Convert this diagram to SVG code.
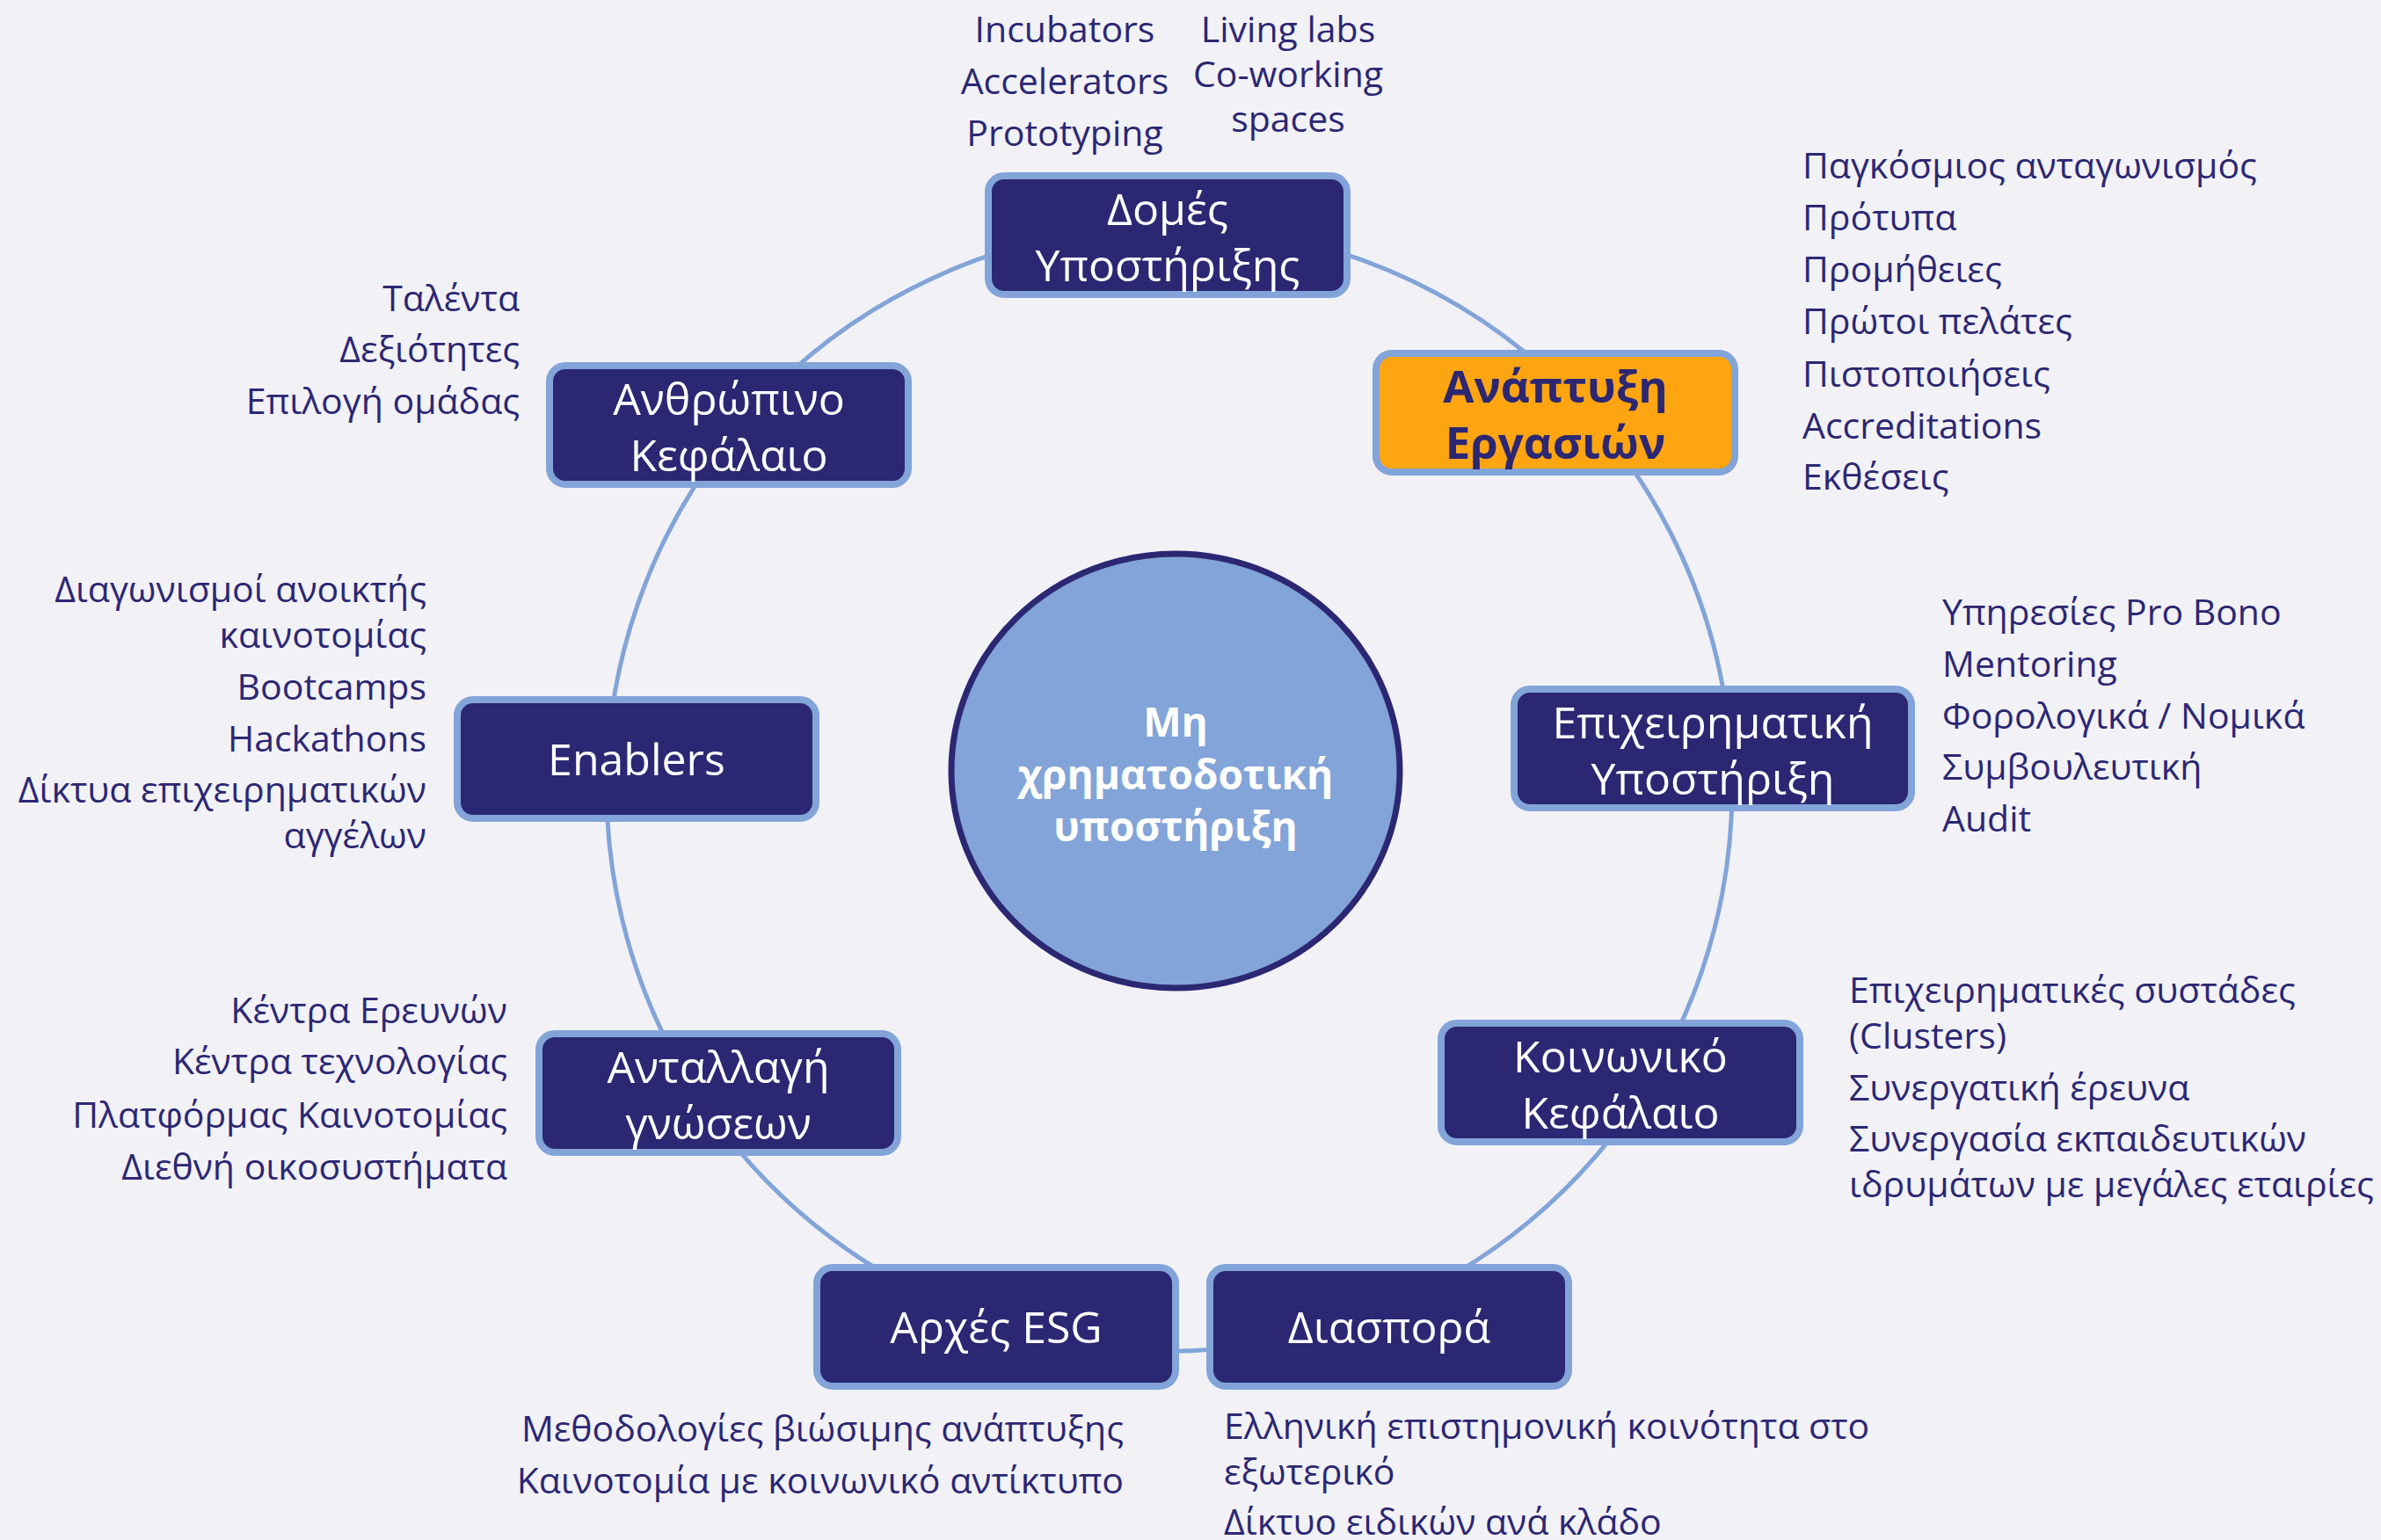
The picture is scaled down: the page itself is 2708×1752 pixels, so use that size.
<svg xmlns="http://www.w3.org/2000/svg" width="2708" height="1752" viewBox="0 0 2708 1752">
<style>
  .bg { fill: #F1F1F6; }
  .box { fill: #2C2773; stroke: #82A4D8; stroke-width: 8; }
  .box-hl { fill: #FFA512; stroke: #82A4D8; stroke-width: 8; }
  .nt { font-family: "Open Sans", "Noto Sans", sans-serif; font-size: 50px; fill: #FFFFFF; text-anchor: middle; }
  .nt-hl { font-family: "Open Sans", "Noto Sans", sans-serif; font-size: 51px; font-weight: bold; fill: #2C2773; text-anchor: middle; }
  .ct { font-family: "Open Sans", "Noto Sans", sans-serif; font-size: 46px; font-weight: bold; fill: #FFFFFF; text-anchor: middle; }
  .lt { font-family: "Open Sans", "Noto Sans", sans-serif; font-size: 41px; fill: #2C2773; }
  .l { text-anchor: start; }
  .r { text-anchor: end; }
  .m { text-anchor: middle; }
  .conn { fill: none; stroke: #82A4D8; stroke-width: 5; }
</style>
<rect class="bg" x="0" y="0" width="2708" height="1752"/>

<g id="connectors">
  <path class="conn" d="M1330 257 A640 640 0 0 1 1788 450"/>
  <path class="conn" d="M1788 450 A640 640 0 0 1 1968 849"/>
  <path class="conn" d="M1968 849 A640 640 0 0 1 1867 1246"/>
  <path class="conn" d="M1867 1246 A640 640 0 0 1 1572 1490"/>
  <path class="conn" d="M1572 1490 A640 640 0 0 1 1134 1506"/>
  <path class="conn" d="M1134 1506 A640 640 0 0 1 799 1254"/>
  <path class="conn" d="M799 1254 A640 640 0 0 1 691 860"/>
  <path class="conn" d="M691 860 A640 640 0 0 1 837 489"/>
  <path class="conn" d="M837 489 A640 640 0 0 1 1330 257"/>
</g>

<g id="center">
  <ellipse cx="1337" cy="877" rx="255" ry="247" fill="#82A4D8" stroke="#2C2773" stroke-width="7"/>
  <text class="ct" x="1337" y="838">Μη</text>
  <text class="ct" x="1337" y="898">χρηματοδοτική</text>
  <text class="ct" x="1337" y="957">υποστήριξη</text>
</g>

<g id="node-domes">
  <rect class="box" x="1124" y="200" width="408" height="135" rx="18"/>
  <text class="nt" x="1328" y="256">Δομές</text>
  <text class="nt" x="1328" y="320">Υποστήριξης</text>
  <text class="lt m" x="1211" y="48">Incubators</text>
  <text class="lt m" x="1211" y="107">Accelerators</text>
  <text class="lt m" x="1211" y="166">Prototyping</text>
  <text class="lt m" x="1465" y="48">Living labs</text>
  <text class="lt m" x="1465" y="99">Co-working</text>
  <text class="lt m" x="1465" y="150">spaces</text>
</g>

<g id="node-anaptyxi">
  <rect class="box-hl" x="1565" y="402" width="408" height="135" rx="18"/>
  <text class="nt-hl" x="1769" y="458">Ανάπτυξη</text>
  <text class="nt-hl" x="1769" y="522">Εργασιών</text>
  <text class="lt l" x="2050" y="203">Παγκόσμιος ανταγωνισμός</text>
  <text class="lt l" x="2050" y="262">Πρότυπα</text>
  <text class="lt l" x="2050" y="321">Προμήθειες</text>
  <text class="lt l" x="2050" y="380">Πρώτοι πελάτες</text>
  <text class="lt l" x="2050" y="440">Πιστοποιήσεις</text>
  <text class="lt l" x="2050" y="499">Accreditations</text>
  <text class="lt l" x="2050" y="557">Εκθέσεις</text>
</g>

<g id="node-epixeirimatiki">
  <rect class="box" x="1722" y="784" width="452" height="135" rx="18"/>
  <text class="nt" x="1948" y="840">Επιχειρηματική</text>
  <text class="nt" x="1948" y="904">Υποστήριξη</text>
  <text class="lt l" x="2209" y="711">Υπηρεσίες Pro Bono</text>
  <text class="lt l" x="2209" y="770">Mentoring</text>
  <text class="lt l" x="2209" y="829">Φορολογικά / Νομικά</text>
  <text class="lt l" x="2209" y="887">Συμβουλευτική</text>
  <text class="lt l" x="2209" y="946">Audit</text>
</g>

<g id="node-koinoniko">
  <rect class="box" x="1639" y="1164" width="408" height="135" rx="18"/>
  <text class="nt" x="1843" y="1220">Κοινωνικό</text>
  <text class="nt" x="1843" y="1284">Κεφάλαιο</text>
  <text class="lt l" x="2103" y="1141">Επιχειρηματικές συστάδες</text>
  <text class="lt l" x="2103" y="1193">(Clusters)</text>
  <text class="lt l" x="2103" y="1252">Συνεργατική έρευνα</text>
  <text class="lt l" x="2103" y="1310">Συνεργασία εκπαιδευτικών</text>
  <text class="lt l" x="2103" y="1362">ιδρυμάτων με μεγάλες εταιρίες</text>
</g>

<g id="node-diaspora">
  <rect class="box" x="1376" y="1442" width="408" height="135" rx="18"/>
  <text class="nt" x="1580" y="1528">Διασπορά</text>
  <text class="lt l" x="1392" y="1637">Ελληνική επιστημονική κοινότητα στο</text>
  <text class="lt l" x="1392" y="1689">εξωτερικό</text>
  <text class="lt l" x="1392" y="1746">Δίκτυο ειδικών ανά κλάδο</text>
</g>

<g id="node-esg">
  <rect class="box" x="929" y="1442" width="408" height="135" rx="18"/>
  <text class="nt" x="1133" y="1528">Αρχές ESG</text>
  <text class="lt r" x="1278" y="1640">Μεθοδολογίες βιώσιμης ανάπτυξης</text>
  <text class="lt r" x="1278" y="1699">Καινοτομία με κοινωνικό αντίκτυπο</text>
</g>

<g id="node-antallagi">
  <rect class="box" x="613" y="1176" width="408" height="135" rx="18"/>
  <text class="nt" x="817" y="1232">Ανταλλαγή</text>
  <text class="nt" x="817" y="1296">γνώσεων</text>
  <text class="lt r" x="577" y="1164">Κέντρα Ερευνών</text>
  <text class="lt r" x="577" y="1222">Κέντρα τεχνολογίας</text>
  <text class="lt r" x="577" y="1283">Πλατφόρμας Καινοτομίας</text>
  <text class="lt r" x="577" y="1342">Διεθνή οικοσυστήματα</text>
</g>

<g id="node-enablers">
  <rect class="box" x="520" y="796" width="408" height="135" rx="18"/>
  <text class="nt" x="724" y="882">Enablers</text>
  <text class="lt r" x="485" y="685">Διαγωνισμοί ανοικτής</text>
  <text class="lt r" x="485" y="737">καινοτομίας</text>
  <text class="lt r" x="485" y="796">Bootcamps</text>
  <text class="lt r" x="485" y="855">Hackathons</text>
  <text class="lt r" x="485" y="913">Δίκτυα επιχειρηματικών</text>
  <text class="lt r" x="485" y="965">αγγέλων</text>
</g>

<g id="node-anthropino">
  <rect class="box" x="625" y="416" width="408" height="135" rx="18"/>
  <text class="nt" x="829" y="472">Ανθρώπινο</text>
  <text class="nt" x="829" y="536">Κεφάλαιο</text>
  <text class="lt r" x="591" y="354">Ταλέντα</text>
  <text class="lt r" x="591" y="412">Δεξιότητες</text>
  <text class="lt r" x="591" y="471">Επιλογή ομάδας</text>
</g>
</svg>
